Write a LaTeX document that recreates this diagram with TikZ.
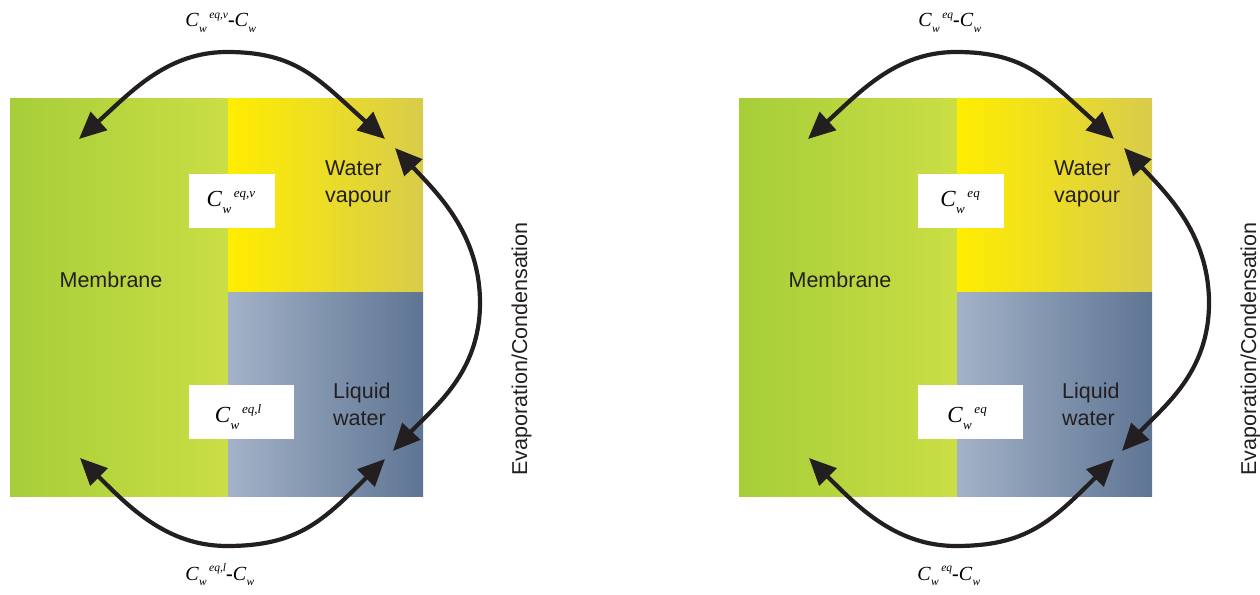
\documentclass[tikz,border=0pt]{standalone}
\usepackage{fontspec}
\setmainfont{Liberation Sans}
\newfontfamily\tms{Liberation Serif}
\usetikzlibrary{arrows.meta}
\definecolor{memL}{RGB}{166,206,57}
\definecolor{memR}{RGB}{203,222,69}
\definecolor{vapL}{RGB}{255,237,0}
\definecolor{vapR}{RGB}{216,204,76}
\definecolor{liqL}{RGB}{163,178,200}
\definecolor{liqR}{RGB}{94,117,147}
\definecolor{ink}{RGB}{35,31,32}
\newcommand\Cwterm[3]{{\fontsize{#1}{#1}\selectfont\tms\itshape C\kern0.02em\raisebox{-0.28em}{\fontsize{#2}{#2}\selectfont w}\kern0.12em\raisebox{0.42em}{\fontsize{#2}{#2}\selectfont #3}}}
\newcommand\Cwdiff[1]{\Cwterm{20pt}{11.5pt}{#1}{\fontsize{20pt}{20pt}\selectfont\tms\bfseries -}\Cwterm{20pt}{11.5pt}{}}
\newcommand\drawpanel[4]{%
  % #1 prefix, #2 vapour sup, #3 liquid sup, #4 xshift
  \begin{scope}[xshift=#4]
    \fill[left color=memL,right color=memR] (10,97) rectangle (230,495);
    \fill[left color=vapL,right color=vapR] (228,301) rectangle (423,495);
    \fill[left color=liqL,right color=liqR] (228,97) rectangle (423,301);
    \node[whitebox,minimum width=86pt] (#1bv) at (232,393) {};
    \node[whitebox,minimum width=105pt] (#1bl) at (241.5,182) {};
    \node[anchor=base] (#1cv) at (231,387) {\Cwterm{23pt}{13pt}{#2}};
    \node[anchor=base] (#1cl) at (238,171) {\Cwterm{23pt}{13pt}{#3}};
    \node[label] (#1mem) at (111,306) {Membrane};
    \node[label,anchor=base west,align=left] (#1vap) at (325,391) {Water\\vapour};
    \node[label,anchor=base west,align=left] (#1liq) at (333,168) {Liquid\\water};
    \node[label,rotate=90] (#1evap) at (527,245) {Evaporation/Condensation};
    \node[anchor=base] (#1top) at (222,567) {\Cwdiff{#2}};
    \node[anchor=base] (#1bot) at (221,14) {\Cwdiff{#3}};
    \coordinate (#1TL) at (79,455);
    \coordinate (#1TM) at (227,542);
    \coordinate (#1TR) at (385,455);
    \coordinate (#1RT) at (395,446);
    \coordinate (#1RM) at (480,291);
    \coordinate (#1RB) at (393,143);
    \coordinate (#1BL) at (80,136);
    \coordinate (#1BM) at (227,48);
    \coordinate (#1BR) at (385,135);
    \draw[biarrow] (#1TL) .. controls +(52,47) and +(-60,0) .. (#1TM)
                          .. controls +(70,0) and +(-67,60) .. (#1TR);
    \draw[biarrow] (#1RT) .. controls +(41,-44) and +(0,70) .. (#1RM)
                          .. controls +(0,-70) and +(41,44) .. (#1RB);
    \draw[biarrow] (#1BL) .. controls +(49,-49) and +(-60,0) .. (#1BM)
                          .. controls +(70,0) and +(-63,-63) .. (#1BR);
  \end{scope}}
\begin{document}
\begin{tikzpicture}[x=1pt,y=1pt,
  whitebox/.style={fill=white,draw=none,minimum height=54pt,inner sep=0pt},
  label/.style={anchor=base,text=ink,font=\fontsize{21.5pt}{27pt}\selectfont,inner sep=0pt},
  biarrow/.style={draw=ink,line width=4.2pt,{Triangle[length=27pt,width=24pt]}-{Triangle[length=27pt,width=24pt]}}]
\useasboundingbox (0,0) rectangle (1260,594);
\drawpanel{a}{eq,v}{eq,l}{0pt}
\drawpanel{b}{eq}{eq}{729pt}
\end{tikzpicture}
\end{document}
